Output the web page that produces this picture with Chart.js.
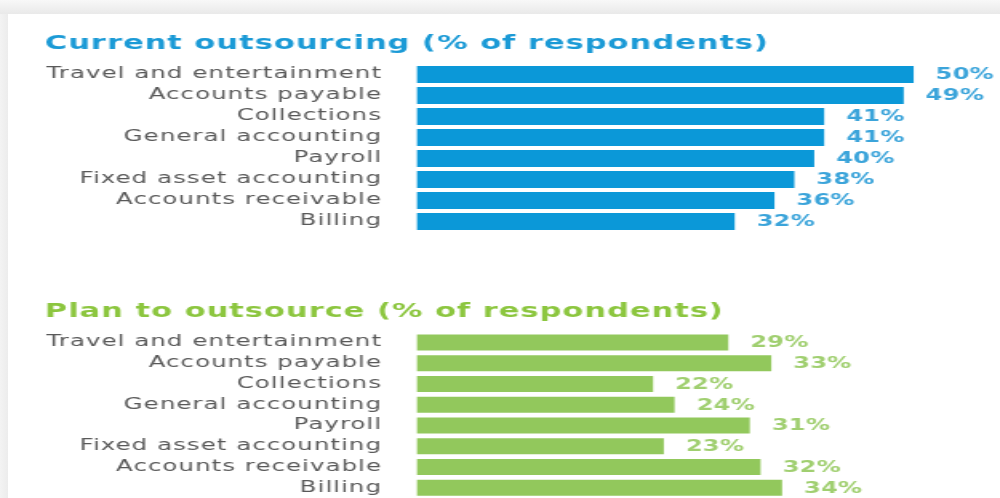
<!DOCTYPE html>
<html><head><meta charset="utf-8">
<script src="https://cdn.jsdelivr.net/npm/chart.js@4"></script>
<style>
html,body{margin:0;padding:0;width:1000px;height:498px;overflow:hidden;background:#fff;}
#topband{position:absolute;left:0;top:0;width:1000px;height:14px;background:linear-gradient(#f8f8f8,#e9e9e9);}
#leftband{position:absolute;left:0;top:14px;width:8px;height:484px;background:linear-gradient(90deg,#f3f3f3,#ececec);}
.wrap{position:absolute;left:0;transform:scaleX(1.6);transform-origin:0 0;}
canvas{display:block;}
</style></head><body>
<div id="topband"></div><div id="leftband"></div>
<div class="wrap" style="top:0"><canvas id="c1" width="640" height="250"></canvas></div>
<div class="wrap" style="top:260px"><canvas id="c2" width="640" height="240"></canvas></div>
<script>
const categories = ["Travel and entertainment","Accounts payable","Collections","General accounting","Payroll","Fixed asset accounting","Accounts receivable","Billing"];
const currentValues = [50,49,41,41,40,38,36,32];
const planValues = [29,33,22,24,31,23,32,34];
const currentTitle = "Current outsourcing (% of respondents)";
const planTitle = "Plan to outsource (% of respondents)";
const valueSuffix = "%";

Chart.defaults.font.family = "'DejaVu Sans', Verdana, sans-serif";
Chart.defaults.animation = false;

const spacingPlugin = {
  id: 'spacing',
  beforeDraw(chart) { chart.ctx.letterSpacing = '0.65px'; }
};
const valueLabels = {
  id: 'valueLabels',
  afterDatasetsDraw(chart, args, opts) {
    const ctx = chart.ctx;
    const meta = chart.getDatasetMeta(0);
    const ds = chart.data.datasets[0];
    ctx.save();
    ctx.letterSpacing = opts.spacing;
    ctx.font = "bold 15px 'DejaVu Sans', Verdana, sans-serif";
    ctx.fillStyle = opts.color;
    ctx.textAlign = 'left';
    ctx.textBaseline = 'middle';
    meta.data.forEach((el, i) => {
      ctx.fillText(ds.data[i] + valueSuffix, el.x + opts.offset, el.y + 1);
    });
    ctx.restore();
  }
};

function makeChart(id, values, title, cfg) {
  return new Chart(document.getElementById(id), {
    type: 'bar',
    data: { labels: categories, datasets: [{ data: values, backgroundColor: cfg.barColor, borderWidth: 0, barPercentage: cfg.barPct, categoryPercentage: 1 }] },
    options: {
      responsive: false, animation: false, indexAxis: 'y',
      layout: { padding: { left: 28.1, right: cfg.padRight, top: 0, bottom: cfg.padBottom } },
      plugins: {
        legend: { display: false }, tooltip: { enabled: false },
        title: { display: true, text: title, align: 'start', color: cfg.titleColor,
                 font: { size: 19, weight: 'bold' }, padding: { top: cfg.titleTop, bottom: cfg.titleBottom } },
        valueLabels: { color: cfg.valueColor, offset: 13.75, spacing: '0.2px' }
      },
      scales: {
        x: { display: false, min: 0, max: cfg.max },
        y: { grid: { display: false, drawTicks: false }, border: { display: false },
             ticks: { color: '#595959', font: { size: 15.3 }, padding: 21.6, autoSkip: false },
             afterFit(s) { s.width = 232.3; s.paddingTop = 0; s.paddingBottom = 0; } }
      }
    },
    plugins: [spacingPlugin, valueLabels]
  });
}

makeChart('c1', currentValues, currentTitle, {
  barColor: '#0b98d8', titleColor: '#1b9ad6', valueColor: '#3ba4da',
  barPct: 0.81, max: 60, padRight: 6.8, padBottom: 18, titleTop: 32.6, titleBottom: 8.6
});
makeChart('c2', planValues, planTitle, {
  barColor: '#92c85c', titleColor: '#8cc63f', valueColor: '#a0cf70',
  barPct: 0.77, max: 55, padRight: 10.1, padBottom: 1.9, titleTop: 40.6, titleBottom: 8.7
});
</script>
</body></html>
